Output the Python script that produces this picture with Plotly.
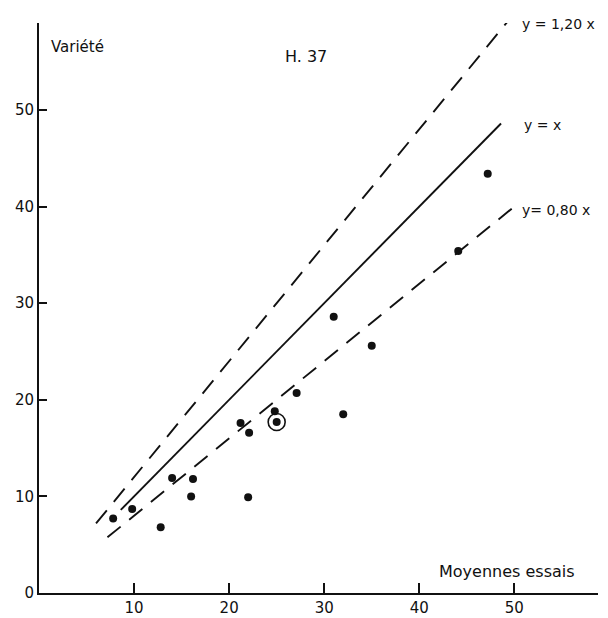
import plotly.graph_objects as go

# Variety mean vs. trial mean (H. 37)
moyennes_essais = [7.8, 9.8, 12.8, 14.0, 16.0, 16.2, 21.2, 22.1, 22.0, 24.8,
                   27.1, 31.0, 32.0, 35.0, 44.1, 47.2]
variete = [7.7, 8.7, 6.8, 11.9, 10.0, 11.8, 17.6, 16.6, 9.9, 18.8,
           20.7, 28.6, 18.5, 25.6, 35.4, 43.4]

# highlighted (circled) observation
circled_x = [25.0]
circled_y = [17.7]

# reference lines y = k * x, with their drawn x extent
ref_slopes = [1.20, 1.00, 0.80]
ref_x_start = [6.0, 8.6, 7.2]
ref_x_end = [49.6, 48.6, 50.0]
ref_labels = ["y = 1,20 x", "y = x", "y= 0,80 x"]
ref_dash = ["17px,11px", "solid", "17px,11px"]

x_ticks = [10, 20, 30, 40, 50]
y_ticks = [0, 10, 20, 30, 40, 50]

FONT = "DejaVu Sans"
INK = "#111111"

fig = go.Figure()

for k, x0, x1, d in zip(ref_slopes, ref_x_start, ref_x_end, ref_dash):
    fig.add_trace(go.Scatter(
        x=[x0, x1], y=[k * x0, k * x1], mode="lines",
        line=dict(color=INK, width=1.9, dash=d),
        hoverinfo="skip", showlegend=False,
    ))

fig.add_trace(go.Scatter(
    x=moyennes_essais, y=variete, mode="markers",
    marker=dict(size=8, color=INK, line=dict(width=0)),
    showlegend=False,
))

fig.add_trace(go.Scatter(
    x=circled_x, y=circled_y, mode="markers",
    marker=dict(size=8, color=INK, line=dict(width=0)),
    showlegend=False,
))
fig.add_trace(go.Scatter(
    x=circled_x, y=circled_y, mode="markers",
    marker=dict(size=17, color="rgba(0,0,0,0)", line=dict(width=1.6, color=INK)),
    showlegend=False,
))

# labels of the reference lines, just past their upper ends
label_pos = [(50.6, 58.9), (50.8, 48.4), (50.6, 39.6)]
for txt, (lx, ly) in zip(ref_labels, label_pos):
    fig.add_annotation(x=lx, y=ly, text=txt, showarrow=False,
                       xanchor="left", yanchor="middle",
                       font=dict(family=FONT, size=14, color=INK))

fig.add_annotation(x=25.7, y=55.5, text="H. 37", showarrow=False,
                   xanchor="left", yanchor="middle",
                   font=dict(family=FONT, size=16, color=INK))
fig.add_annotation(x=1.0, y=56.5, text="Variété", showarrow=False,
                   xanchor="left", yanchor="middle",
                   font=dict(family=FONT, size=15, color=INK))
fig.add_annotation(x=41.9, y=2.2, text="Moyennes essais", showarrow=False,
                   xanchor="left", yanchor="middle",
                   font=dict(family=FONT, size=16, color=INK))

fig.update_xaxes(
    range=[0, 58.8], showgrid=False, zeroline=False,
    showline=True, linecolor=INK, linewidth=2,
    tickmode="array", tickvals=x_ticks, ticktext=[str(v) for v in x_ticks],
    ticks="inside", ticklen=10, tickwidth=2, tickcolor=INK,
    tickfont=dict(family=FONT, size=15, color=INK),
    automargin=False,
)
fig.update_yaxes(
    range=[0, 59], showgrid=False, zeroline=False,
    showline=True, linecolor=INK, linewidth=2,
    tickmode="array", tickvals=y_ticks, ticktext=[str(v) for v in y_ticks],
    ticks="inside", ticklen=8, tickwidth=2, tickcolor=INK,
    tickfont=dict(family=FONT, size=15, color=INK),
    automargin=False,
)

fig.update_layout(
    width=608, height=618,
    margin=dict(l=39, r=10, t=23, b=25),
    paper_bgcolor="white", plot_bgcolor="white",
    showlegend=False,
)

fig.write_html("out.html")
